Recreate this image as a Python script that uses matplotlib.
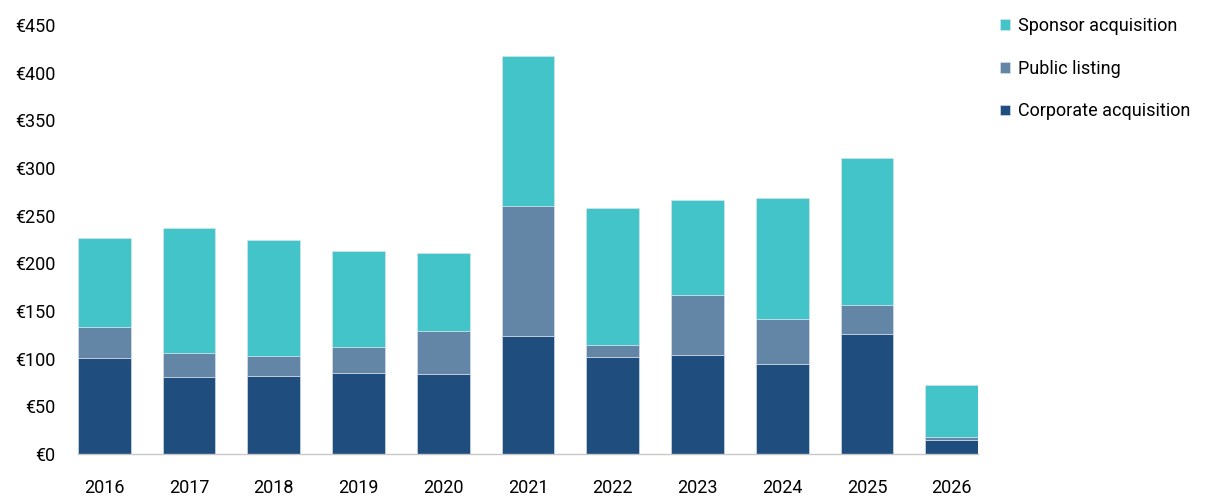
import matplotlib
matplotlib.use("Agg")
import matplotlib.pyplot as plt
import numpy as np

years = ["2016", "2017", "2018", "2019", "2020", "2021", "2022", "2023", "2024", "2025", "2026"]
corporate = [100.4, 80.4, 82.2, 84.6, 83.6, 123.4, 102.1, 103.5, 94.7, 125.9, 14.4]
public = [32.5, 25.9, 20.2, 27.6, 45.7, 137.1, 12.6, 63.6, 46.9, 30.7, 3.1]
sponsor = [93.4, 131.1, 122.4, 100.4, 81.2, 157.0, 143.3, 99.3, 127.3, 153.9, 54.5]

c_corp = "#1F4E7E"
c_pub = "#6385A6"
c_spon = "#42C4C9"

plt.rcParams['font.family'] = ['Roboto', 'DejaVu Sans']
fs = 13

fig = plt.figure(figsize=(12.08, 5.04), dpi=100)
ax = fig.add_axes([78/1208, (504-454)/504, (978-78)/1208, (454-25)/504])

x = np.arange(len(years))
w = 0.62
corp = np.array(corporate)
pub = np.array(public)
spon = np.array(sponsor)
ax.bar(x, corp, w, color=c_corp, edgecolor="#dfe6ee", linewidth=0.4, label="Corporate acquisition")
ax.bar(x, pub, w, bottom=corp, color=c_pub, edgecolor="#dfe6ee", linewidth=0.4, label="Public listing")
ax.bar(x, spon, w, bottom=corp + pub, color=c_spon, edgecolor="#dfe6ee", linewidth=0.4, label="Sponsor acquisition")

ax.set_xlim(-0.31, 10.31)
ax.set_ylim(0, 450)
ax.set_yticks(np.arange(0, 451, 50))
ax.set_yticklabels([f"€{v}" for v in range(0, 451, 50)], fontsize=fs)
ax.set_xticks(x)
ax.set_xticklabels(years, fontsize=fs)
ax.tick_params(axis='both', length=0)
ax.tick_params(axis='y', pad=16)
ax.tick_params(axis='x', pad=18)
for s in ["top", "right", "left"]:
    ax.spines[s].set_visible(False)
ax.spines["bottom"].set_color("#c8c8c8")
ax.spines["bottom"].set_linewidth(1.0)

handles, labels = ax.get_legend_handles_labels()
leg = fig.legend(handles[::-1], labels[::-1], loc="upper left", bbox_to_anchor=(993/1208, 1 - 10/504),
                 frameon=False, fontsize=fs, handlelength=0.55, handleheight=0.55,
                 handletextpad=0.45, labelspacing=1.36, borderaxespad=0)

fig.savefig("out.png", dpi=100)
